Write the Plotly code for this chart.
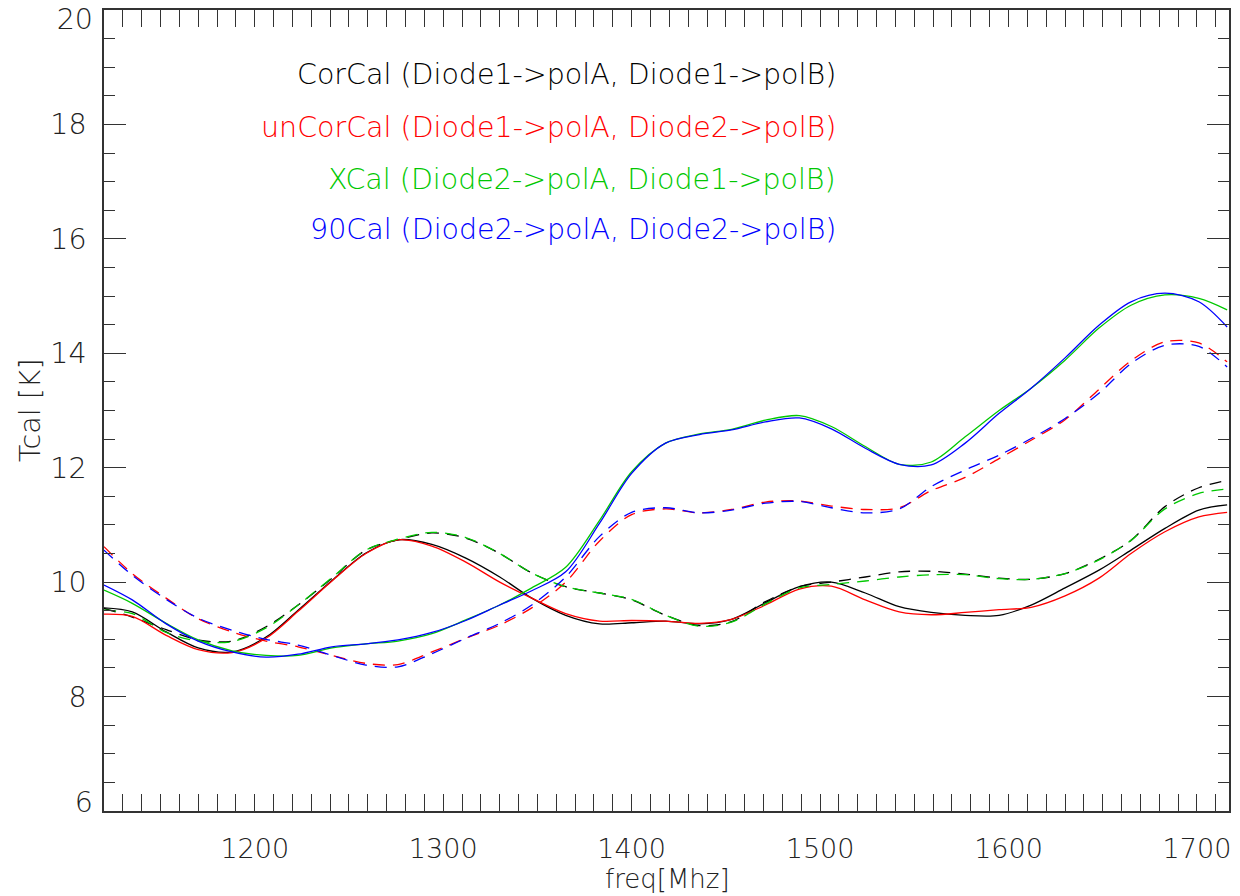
import plotly.graph_objects as go

# ---------------- data ----------------
freq = [1120, 1135, 1153, 1170, 1188, 1206, 1223, 1241, 1259, 1276, 1294, 1312,
        1330, 1347, 1365, 1383, 1400, 1418, 1436, 1453, 1471, 1489, 1506, 1524,
        1542, 1559, 1577, 1595, 1612, 1630, 1648, 1665, 1683, 1701, 1716]

corcal_a = [9.55, 9.48, 9.13, 8.85, 8.78, 9.04, 9.51, 10.03, 10.51, 10.74, 10.66, 10.42,
            10.09, 9.72, 9.42, 9.27, 9.29, 9.32, 9.27, 9.35, 9.64, 9.92, 10.0, 9.81,
            9.57, 9.47, 9.42, 9.42, 9.6, 9.9, 10.21, 10.56, 10.94, 11.26, 11.35]
corcal_b = [9.54, 9.39, 9.17, 8.99, 8.97, 9.22, 9.6, 10.07, 10.56, 10.74, 10.86, 10.77,
            10.5, 10.16, 9.92, 9.81, 9.69, 9.42, 9.24, 9.31, 9.66, 9.92, 10.0, 10.09,
            10.18, 10.19, 10.14, 10.07, 10.05, 10.15, 10.4, 10.73, 11.32, 11.65, 11.78]

uncorcal_a = [9.44, 9.40, 9.07, 8.82, 8.77, 9.02, 9.49, 10.02, 10.5, 10.74, 10.63, 10.35,
              10.0, 9.72, 9.45, 9.32, 9.33, 9.32, 9.28, 9.35, 9.6, 9.88, 9.93, 9.69,
              9.48, 9.43, 9.47, 9.52, 9.56, 9.76, 10.07, 10.5, 10.88, 11.14, 11.22]
uncorcal_b = [10.62, 10.15, 9.72, 9.36, 9.13, 8.97, 8.87, 8.72, 8.58, 8.56, 8.78, 9.02,
              9.25, 9.55, 10.0, 10.72, 11.18, 11.28, 11.21, 11.27, 11.4, 11.42, 11.33, 11.27,
              11.3, 11.6, 11.83, 12.16, 12.48, 12.84, 13.37, 13.87, 14.2, 14.18, 13.85]

xcal_a = [9.86, 9.63, 9.28, 8.99, 8.8, 8.72, 8.72, 8.85, 8.92, 8.97, 9.1, 9.34,
          9.6, 9.9, 10.26, 11.08, 11.93, 12.43, 12.59, 12.67, 12.83, 12.91, 12.72, 12.37,
          12.06, 12.1, 12.54, 13.0, 13.39, 13.88, 14.44, 14.84, 15.02, 14.96, 14.76]
xcal_b = [9.51, 9.45, 9.12, 8.97, 8.96, 9.2, 9.6, 10.08, 10.56, 10.75, 10.87, 10.78,
          10.5, 10.16, 9.92, 9.81, 9.7, 9.42, 9.23, 9.3, 9.62, 9.9, 9.96, 10.02,
          10.09, 10.13, 10.13, 10.06, 10.05, 10.15, 10.39, 10.73, 11.28, 11.55, 11.63]

cal90_a = [9.95, 9.69, 9.27, 8.97, 8.78, 8.69, 8.74, 8.87, 8.92, 8.99, 9.12, 9.33,
           9.6, 9.85, 10.18, 11.03, 11.9, 12.43, 12.58, 12.66, 12.8, 12.87, 12.68, 12.34,
           12.06, 12.05, 12.43, 12.95, 13.39, 13.92, 14.49, 14.9, 15.05, 14.9, 14.46]
cal90_b = [10.56, 10.12, 9.7, 9.37, 9.16, 9.0, 8.9, 8.72, 8.55, 8.52, 8.75, 9.02,
           9.28, 9.6, 10.09, 10.8, 11.22, 11.3, 11.21, 11.26, 11.38, 11.41, 11.3, 11.21,
           11.28, 11.67, 11.96, 12.22, 12.51, 12.86, 13.3, 13.82, 14.14, 14.12, 13.76]

y_ticks = [6, 8, 10, 12, 14, 16, 18, 20]
x_ticks = [1200, 1300, 1400, 1500, 1600, 1700]

legend_labels = ["CorCal (Diode1->polA, Diode1->polB)",
                 "unCorCal (Diode1->polA, Diode2->polB)",
                 "XCal (Diode2->polA, Diode1->polB)",
                 "90Cal (Diode2->polA, Diode2->polB)"]
x_title = "freq[Mhz]"
y_title = "Tcal [K]"

# ---------------- styling ----------------
BLACK, RED, GREEN, BLUE = "#000000", "#ff0000", "#00c800", "#0000ff"
FONT = "DejaVu Sans"
TXT = "#222222"
AX = "#333333"
DASH = "12px,8px"
LW = 1.3
FS = 28.5
TF = dict(family=FONT, size=FS, color=TXT, weight=200)
XTF = dict(family=FONT, size=27, color=TXT, weight=200)
XTITLE_F = dict(family=FONT, size=26, color=TXT, weight=200)

series = [
    (corcal_a, BLACK, "solid"), (corcal_b, BLACK, DASH),
    (uncorcal_a, RED, "solid"), (uncorcal_b, RED, DASH),
    (xcal_a, GREEN, "solid"), (xcal_b, GREEN, DASH),
    (cal90_a, BLUE, "solid"), (cal90_b, BLUE, DASH),
]

fig = go.Figure()
for vals, col, dash in series:
    fig.add_trace(go.Scatter(x=freq, y=vals, mode="lines",
                             line=dict(color=col, width=LW, dash=dash, shape="spline", smoothing=0.9),
                             showlegend=False, hoverinfo="skip"))
# empty traces so the two overlay axes (carrying the end labels) get drawn
for ax in ("y2", "y3"):
    fig.add_trace(go.Scatter(x=[None], y=[None], yaxis=ax, mode="lines",
                             showlegend=False, hoverinfo="skip"))

W, H = 1240, 896
L, R, T, B = 104, 11, 10, 85
PW, PH = W - L - R, H - T - B
YR = [6, 20]

# interior y labels on the main axis, end labels on overlay axes shifted inward
inner_text = [str(v) if v not in (YR[0], YR[1]) else "" for v in y_ticks]

fig.update_layout(
    width=W, height=H,
    margin=dict(l=L, r=R, t=T, b=B, pad=0, autoexpand=False),
    paper_bgcolor="white", plot_bgcolor="white",
    font=TF, showlegend=False,
    xaxis=dict(range=[1120, 1717], tickmode="array", tickvals=x_ticks,
               ticktext=[str(v) for v in x_ticks], ticklen=17,
               minor=dict(dtick=10, tick0=1200, ticklen=9, ticks="inside", tickcolor=AX, tickwidth=1.2),
               ticklabelstandoff=13,
               showline=True, linecolor=AX, linewidth=1.5, mirror="allticks",
               showgrid=False, zeroline=False, ticks="inside", tickcolor=AX, tickwidth=1.2,
               tickfont=XTF, automargin=False, ticklabeloverflow="allow"),
    yaxis=dict(range=YR, tickmode="array", tickvals=y_ticks, ticktext=inner_text, ticklen=22,
               minor=dict(dtick=0.5, tick0=6, ticklen=11, ticks="inside", tickcolor=AX, tickwidth=1.2),
               ticklabelstandoff=10,
               showline=True, linecolor=AX, linewidth=1.5, mirror="allticks",
               showgrid=False, zeroline=False, ticks="inside", tickcolor=AX, tickwidth=1.2,
               tickfont=TF, automargin=False, ticklabeloverflow="allow"),
    yaxis2=dict(range=YR, overlaying="y", side="left", tickmode="array",
                tickvals=[YR[1]], ticktext=[str(YR[1])], ticks="", ticklabelshift=9,
                ticklabelstandoff=10, showline=False, showgrid=False, zeroline=False,
                tickfont=TF, automargin=False, ticklabeloverflow="allow"),
    yaxis3=dict(range=YR, overlaying="y", side="left", tickmode="array",
                tickvals=[YR[0]], ticktext=[str(YR[0])], ticks="", ticklabelshift=-9,
                ticklabelstandoff=10, showline=False, showgrid=False, zeroline=False,
                tickfont=TF, automargin=False, ticklabeloverflow="allow"),
)

# axis titles
fig.add_annotation(text=x_title, xref="paper", yref="paper",
                   x=(667 - L) / PW, y=1 - (879 - T) / PH, xanchor="center", yanchor="middle",
                   showarrow=False, font=XTITLE_F)
fig.add_annotation(text=y_title, xref="paper", yref="paper", textangle=-90,
                   x=(30 - L) / PW, y=1 - (410 - T) / PH, xanchor="center", yanchor="middle",
                   showarrow=False, font=TF)

ys = [75, 127, 180, 229]
cols = [BLACK, RED, GREEN, BLUE]
for txt, yy, col in zip(legend_labels, ys, cols):
    fig.add_annotation(text=txt, xref="paper", yref="paper",
                       x=(838 - L) / PW, y=1 - (yy - T) / PH,
                       xanchor="right", yanchor="middle", showarrow=False,
                       font=dict(family=FONT, size=FS, color=col, weight=200))

fig.write_html("out.html", config={"displayModeBar": False},
               post_script="document.body.style.margin='0';document.body.style.overflow='hidden';")
